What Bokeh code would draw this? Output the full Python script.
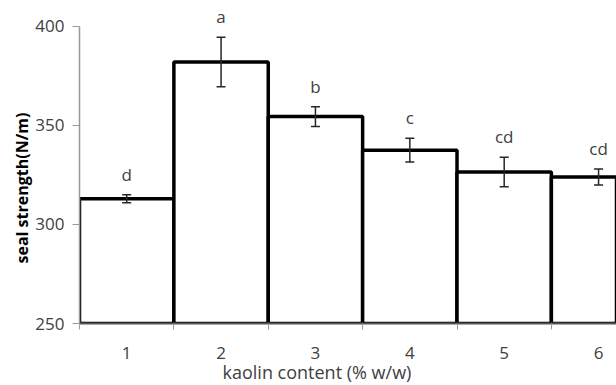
from bokeh.plotting import figure
from bokeh.models import ColumnDataSource, Whisker, TeeHead, FixedTicker, Range1d, Title
from bokeh.core.properties import value
from bokeh.embed import file_html
from bokeh.resources import INLINE

# ---- data ----
categories = [1, 2, 3, 4, 5, 6]
tick_labels = ["1", "2", "3", "4", "5", "6"]
means = [313, 382, 354.5, 337.5, 326.5, 324]
errors = [2, 12.5, 5, 6, 7.5, 4]
letters = ["d", "a", "b", "c", "cd", "cd"]
y_ticks = [250, 300, 350, 400]

upper = [m + e for m, e in zip(means, errors)]
lower = [m - e for m, e in zip(means, errors)]
src = ColumnDataSource(dict(x=categories, top=means, upper=upper, lower=lower, letter=letters))

FONT = "Open Sans"
TXT = "#404040"

p = figure(width=616, height=385, output_backend="svg", toolbar_location=None,
           x_range=Range1d(0.5, 6.19), y_range=Range1d(250, 412.1),
           min_border_left=79, min_border_right=0, min_border_top=2, min_border_bottom=62)
p.outline_line_color = None
p.grid.grid_line_color = None
p.background_fill_color = "white"
p.border_fill_color = "white"

p.vbar(x="x", top="top", bottom=0, width=1.0, source=src,
       fill_color="white", line_color="black", line_width=3.5)

w = Whisker(source=src, base="x", upper="upper", lower="lower", level="overlay",
            line_color="#262626", line_width=1.5,
            upper_head=TeeHead(size=9, line_color="#262626", line_width=1.5),
            lower_head=TeeHead(size=9, line_color="#262626", line_width=1.5))
p.add_layout(w)

p.text(x="x", y="upper", text="letter", source=src, text_align="center",
       text_baseline="bottom", y_offset=-9, text_font=value(FONT),
       text_font_size="17px", text_color=TXT)

# x axis: labels at centers, ticks at category boundaries
p.xaxis.ticker = FixedTicker(ticks=categories, minor_ticks=[c - 0.5 for c in categories] + [6.5])
p.xaxis.major_label_overrides = {c: t for c, t in zip(categories, tick_labels)}
p.xaxis.major_tick_line_color = None
p.xaxis.major_tick_out = 0
p.xaxis.major_tick_in = 0
p.xaxis.minor_tick_out = 6
p.xaxis.minor_tick_in = 0
p.xaxis.minor_tick_line_color = "#999999"
p.xaxis.axis_line_color = "#555555"
p.xaxis.axis_line_width = 2
p.xaxis.major_label_standoff = 17
p.xaxis.major_label_text_font = FONT
p.xaxis.major_label_text_font_size = "17px"
p.xaxis.major_label_text_color = TXT

xtitle = Title(text="kaolin content (% w/w)", align="left", offset=143,
               vertical_align="top", text_font=FONT, text_font_size="18px",
               text_font_style="normal", text_color=TXT, standoff=-4)
p.add_layout(xtitle, "below")

# y axis
p.yaxis.ticker = FixedTicker(ticks=y_ticks)
p.yaxis.bounds = (250, 400)
p.yaxis.minor_tick_line_color = None
p.yaxis.major_tick_out = 7
p.yaxis.major_tick_in = 0
p.yaxis.major_tick_line_color = "#999999"
p.yaxis.axis_line_color = "#999999"
p.yaxis.axis_line_width = 1.5
p.yaxis.major_label_standoff = 8
p.yaxis.major_label_text_font = FONT
p.yaxis.major_label_text_font_size = "17px"
p.yaxis.major_label_text_color = TXT

ytitle = Title(text="seal strength(N/m)", align="left", offset=60,
               text_font=FONT, text_font_size="16px", text_font_style="bold",
               text_color="black", standoff=0)
p.add_layout(ytitle, "left")

open("out.html", "w").write(file_html(p, INLINE))
